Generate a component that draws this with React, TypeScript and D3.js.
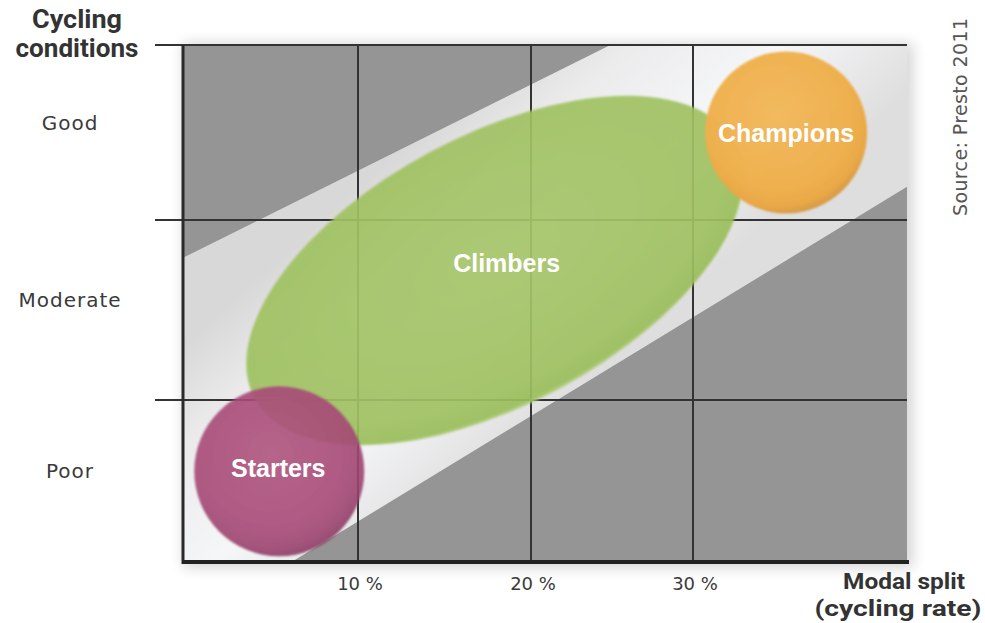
import React from "react";
import * as d3 from "d3";

// Cycling conditions (rows, bottom to top) and modal split ticks
const conditionLabels = ["Poor", "Moderate", "Good"];
const splitTicks = [10, 20, 30];
const splitTickLabels = ["10 %", "20 %", "30 %"];

// City groups: modal split (%) and cycling-condition position (0 = bottom, 3 = top)
const groupNames = ["Climbers", "Champions", "Starters"];
const groupSplit = [17.9, 34.35, 5.5];
const groupCondition = [1.72, 2.5, 0.56];

// Light diagonal corridor through the matrix
const corridorUpperSplit = [0, 24.9];
const corridorUpperCond = [1.79, 3];
const corridorLowerSplit = [6.2, 40];
const corridorLowerCond = [0, 2.19];

const W = 985;
const H = 623;

const x = d3.scaleLinear().domain([0, 10, 20, 30, 40]).range([183, 358, 531, 693, 907]);
const y = d3.scaleLinear().domain([0, 1, 2, 3]).range([562, 400, 220, 45]);

const shapeStyle: Record<string, any> = {
  Climbers: { rx: 272, ry: 135, angle: -28, grad: "gClimb", opacity: 0.92, dx: 12, dy: 2 },
  Champions: { rx: 81, ry: 81, angle: 0, grad: "gChamp", opacity: 0.98, dx: 0, dy: 9 },
  Starters: { rx: 85, ry: 85, angle: 0, grad: "gStart", opacity: 0.9, dx: -1, dy: 6 },
};

const lightFont = "'DejaVu Sans', sans-serif";
const headFont = "Roboto, 'DejaVu Sans', sans-serif";
const bubbleFont = "'Liberation Sans', Arial, sans-serif";

export default function App() {
  const [x0, x1] = [x(0), x(40)];
  const [yTop, yBottom] = [y(3), y(0)];

  const upper = corridorUpperSplit.map((s, i) => [x(s), y(corridorUpperCond[i])]);
  const lower = corridorLowerSplit.map((s, i) => [x(s), y(corridorLowerCond[i])]);
  const corridor = [upper[0], upper[1], [x1, yTop], lower[1], lower[0], [x0, yBottom]];
  const corridorPath = d3.line()(corridor as [number, number][]) + "Z";
  const gA = [(upper[0][0] + upper[1][0]) / 2, (upper[0][1] + upper[1][1]) / 2];
  const gB = [(lower[0][0] + lower[1][0]) / 2, (lower[0][1] + lower[1][1]) / 2];

  const rows = conditionLabels.map((c, i) => ({ label: c, yc: y(i + 0.5) }));

  return (
    <svg
      width={W}
      height={H}
      viewBox={`0 0 ${W} ${H}`}
      style={{ position: "absolute", left: 0, top: 0, background: "#fff" }}
    >
      <defs>
        <filter id="frameShadow" x="-10%" y="-10%" width="120%" height="120%">
          <feGaussianBlur stdDeviation="7" />
        </filter>
        <filter id="soft" x="-10%" y="-10%" width="120%" height="120%">
          <feGaussianBlur stdDeviation="1" />
        </filter>
        <clipPath id="plotClip">
          <rect x={x0} y={yTop} width={x1 - x0} height={yBottom - yTop} />
        </clipPath>
        <linearGradient id="corridorGrad" gradientUnits="userSpaceOnUse" x1={gA[0]} y1={gA[1]} x2={gB[0]} y2={gB[1]}>
          <stop offset="0" stopColor="#d8d8d8" />
          <stop offset="0.25" stopColor="#ebebec" />
          <stop offset="0.6" stopColor="#f5f6f8" />
          <stop offset="1" stopColor="#dedede" />
        </linearGradient>
        <radialGradient id="gClimb" cx="0.5" cy="0.45" r="0.55">
          <stop offset="0" stopColor="#a7c66b" />
          <stop offset="0.85" stopColor="#a0c262" />
          <stop offset="0.97" stopColor="#9abe5a" />
          <stop offset="1" stopColor="#b2d083" />
        </radialGradient>
        <radialGradient id="gChamp" cx="0.45" cy="0.4" r="0.6">
          <stop offset="0" stopColor="#f3b95d" />
          <stop offset="0.75" stopColor="#f0b04d" />
          <stop offset="0.93" stopColor="#e9a744" />
          <stop offset="1" stopColor="#d99b45" />
        </radialGradient>
        <radialGradient id="gStart" cx="0.45" cy="0.4" r="0.6">
          <stop offset="0" stopColor="#b0557f" />
          <stop offset="0.75" stopColor="#a74a77" />
          <stop offset="0.93" stopColor="#9c436f" />
          <stop offset="1" stopColor="#8c3f65" />
        </radialGradient>
      </defs>

      {/* frame shadow */}
      <rect
        x={x0}
        y={yTop - 2}
        width={x1 - x0 + 6}
        height={yBottom - yTop + 8}
        fill="#000"
        opacity={0.16}
        filter="url(#frameShadow)"
      />

      {/* matrix background */}
      <g clipPath="url(#plotClip)">
        <rect x={x0} y={yTop} width={x1 - x0} height={yBottom - yTop} fill="#959595" />
        <path d={corridorPath} fill="url(#corridorGrad)" />
      </g>

      {/* grid */}
      <g stroke="#333" strokeWidth={2}>
        {splitTicks.map((t) => (
          <line key={t} x1={x(t)} x2={x(t)} y1={yTop} y2={yBottom} />
        ))}
        {[1, 2, 3].map((c) => (
          <line key={c} x1={155} x2={x1} y1={y(c)} y2={y(c)} />
        ))}
      </g>
      <line x1={x0} x2={x0} y1={yTop} y2={yBottom + 2} stroke="#2a2a2a" strokeWidth={3} />
      <line x1={x0 - 1} x2={x1 + 2} y1={yBottom} y2={yBottom} stroke="#222" strokeWidth={4} />

      {/* city groups */}
      {groupNames.map((name, i) => {
        const st = shapeStyle[name];
        const cx = x(groupSplit[i]);
        const cy = y(groupCondition[i]);
        return (
          <ellipse
            key={name}
            cx={cx}
            cy={cy}
            rx={st.rx}
            ry={st.ry}
            transform={`rotate(${st.angle} ${cx} ${cy})`}
            fill={`url(#${st.grad})`}
            opacity={st.opacity}
            filter="url(#soft)"
          />
        );
      })}
      {groupNames.map((name, i) => {
        const st = shapeStyle[name];
        return (
          <text
            key={name}
            x={x(groupSplit[i]) + st.dx}
            y={y(groupCondition[i]) + st.dy}
            textAnchor="middle"
            fontFamily={bubbleFont}
            fontWeight={700}
            fontSize={25}
            fill="#fff"
          >
            {name}
          </text>
        );
      })}

      {/* y axis title and row labels */}
      <g fontFamily={headFont} fontWeight={700} fontSize={25} fill="#333" textAnchor="middle">
        <text x={77} y={28} textLength={90} lengthAdjust="spacingAndGlyphs">Cycling</text>
        <text x={77} y={57} textLength={123} lengthAdjust="spacingAndGlyphs">conditions</text>
      </g>
      <g fontFamily={lightFont} fontSize={20} fill="#3a3a3a" textAnchor="middle" letterSpacing={1}>
        {rows.map((r) => (
          <text key={r.label} x={70} y={r.yc - 3}>
            {r.label}
          </text>
        ))}
      </g>

      {/* x axis tick labels and title */}
      <g fontFamily={lightFont} fontSize={18} fill="#3a3a3a" textAnchor="middle">
        {splitTicks.map((t, i) => (
          <text key={t} x={x(t) + 2} y={590}>
            {splitTickLabels[i]}
          </text>
        ))}
      </g>
      <g fontFamily={headFont} fontWeight={700} fontSize={22} fill="#333" textAnchor="middle">
        <text x={904} y={589} textLength={122} lengthAdjust="spacingAndGlyphs">Modal split</text>
        <text x={898} y={616} textLength={167} lengthAdjust="spacingAndGlyphs">(cycling rate)</text>
      </g>

      {/* source note */}
      <text
        transform="translate(967 117) rotate(-90)"
        textAnchor="middle"
        fontFamily={lightFont}
        fontSize={19}
        fill="#555"
        textLength={198}
        lengthAdjust="spacing"
      >
        Source: Presto 2011
      </text>
    </svg>
  );
}
